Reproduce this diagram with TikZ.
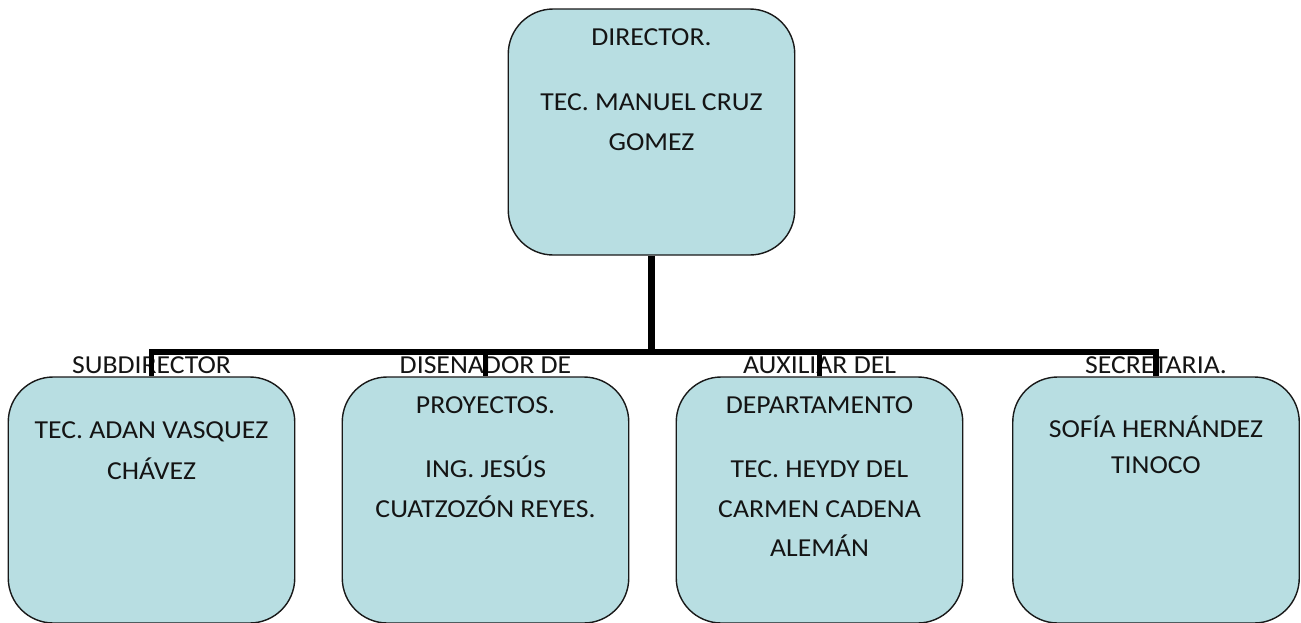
\documentclass[tikz,border=0pt]{standalone}
\usepackage{fontspec}
\setmainfont[FakeStretch=1.07]{Carlito}
\tikzset{
  orgbox/.style={draw=black!90,line width=1.4pt,fill=boxfill,rounded corners=45pt,minimum width=286.5pt,minimum height=246pt,inner sep=0pt},
  txt/.style={anchor=base,inner sep=0pt,font=\fontsize{25.9pt}{30pt}\selectfont,text=black!92},
  link/.style={line width=6pt,draw=black}
}
\definecolor{boxfill}{HTML}{B8DEE2}
\begin{document}
\begin{tikzpicture}[x=1pt,y=-1pt]
\useasboundingbox (0,0) rectangle (1301,622);
\node[orgbox] (dir) at (651.5,132) {};
\node[orgbox] (b1) at (151.5,500) {};
\node[orgbox] (b2) at (485.5,500) {};
\node[orgbox] (b3) at (819.5,500) {};
\node[orgbox] (b4) at (1156,500) {};
\coordinate (bus) at (651.5,352);
\node[txt] (t01) at (651.5,45) {DIRECTOR.};
\node[txt] (t02) at (651.5,110) {TEC. MANUEL CRUZ};
\node[txt] (t03) at (651.5,150) {GOMEZ};
\node[txt] (t11) at (151.5,373) {SUBDIRECTOR};
\node[txt] (t12) at (151.5,438) {TEC. ADAN VASQUEZ};
\node[txt] (t13) at (151.5,479) {CHÁVEZ};
\node[txt] (t21) at (485.5,373) {DISEÑADOR DE};
\node[txt] (t22) at (485.5,413) {PROYECTOS.};
\node[txt] (t23) at (485.5,477) {ING. JESÚS};
\node[txt] (t24) at (485.5,517) {CUATZOZÓN REYES.};
\node[txt] (t31) at (819.5,373) {AUXILIAR DEL};
\node[txt] (t32) at (819.5,413) {DEPARTAMENTO};
\node[txt] (t33) at (819.5,477) {TEC. HEYDY DEL};
\node[txt] (t34) at (819.5,517) {CARMEN CADENA};
\node[txt] (t35) at (819.5,556) {ALEMÁN};
\node[txt] (t41) at (1156,373) {SECRETARIA.};
\node[txt] (t42) at (1156,437) {SOFÍA HERNÁNDEZ};
\node[txt] (t43) at (1156,473) {TINOCO};
\draw[link,line width=7pt] (dir.south) -- (bus);
\draw[link,line cap=rect] (b1.north |- bus) -- (b4.north |- bus);
\foreach \b in {b1,b2,b3,b4}
  \draw[link,line width=5.5pt] (\b.north |- bus) -- (\b.north);
\end{tikzpicture}
\end{document}
